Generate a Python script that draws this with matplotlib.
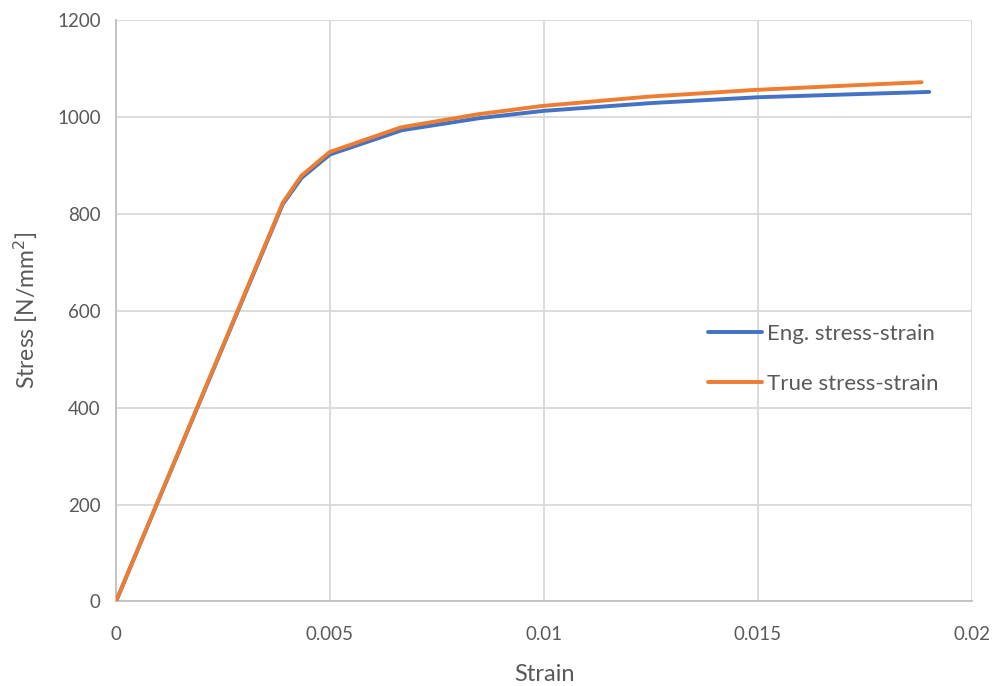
import matplotlib
matplotlib.use("Agg")
import matplotlib.pyplot as plt

# Engineering stress-strain curve
eng_strain = [0, 0.0039, 0.00434, 0.005, 0.00668, 0.0085, 0.01, 0.0125, 0.015, 0.0175, 0.019]
eng_stress = [0, 820, 874, 922, 972, 997, 1012, 1028, 1040, 1047, 1051]

# True stress-strain curve
true_strain = [0, 0.0039, 0.00433, 0.00499, 0.00666, 0.00846, 0.00995, 0.0124, 0.0149, 0.0173, 0.01882]
true_stress = [0, 823, 878, 927, 978, 1005, 1022, 1041, 1055, 1065, 1071]

x_ticks = [0, 0.005, 0.01, 0.015, 0.02]
x_tick_labels = ["0", "0.005", "0.01", "0.015", "0.02"]
y_ticks = [0, 200, 400, 600, 800, 1000, 1200]

plt.rcParams["font.family"] = ["Lato", "DejaVu Sans"]
text_color = "#595959"
grid_color = "#d9d9d9"

fig = plt.figure(figsize=(9.98, 6.86), dpi=100)
ax = fig.add_axes([0.1162, 0.1232, 0.974 - 0.1162, 0.9713 - 0.1232])

ax.plot(eng_strain, eng_stress, color="#4472c4", lw=2.8, label="Eng. stress-strain",
        solid_capstyle="round", solid_joinstyle="round", zorder=3)
ax.plot(true_strain, true_stress, color="#ed7d31", lw=2.8, label="True stress-strain",
        solid_capstyle="round", solid_joinstyle="round", zorder=4)

ax.set_xlim(0, 0.02)
ax.set_ylim(0, 1200)
ax.set_xticks(x_ticks)
ax.set_xticklabels(x_tick_labels)
ax.set_yticks(y_ticks)
ax.grid(True, color=grid_color, lw=1.3)
ax.set_axisbelow(True)
for side in ["top", "right"]:
    ax.spines[side].set_visible(False)
for side in ["left", "bottom"]:
    ax.spines[side].set_color("#bfbfbf")
    ax.spines[side].set_linewidth(1.3)
ax.tick_params(length=0, labelsize=13.5, colors=text_color)
ax.tick_params(axis="x", pad=18)
ax.tick_params(axis="y", pad=11)

ax.set_xlabel("Strain", fontsize=17, color=text_color, labelpad=15)
ax.set_ylabel("Stress [N/mm$^2$]", fontsize=16.5, color=text_color, labelpad=12)

leg = ax.legend(loc="center left", bbox_to_anchor=(0.692, 0.417), frameon=False,
                fontsize=16, handlelength=2.4, handletextpad=0.25, labelspacing=1.35,
                borderaxespad=0, borderpad=0)
for t in leg.get_texts():
    t.set_color(text_color)

fig.savefig("out.png", dpi=100)
